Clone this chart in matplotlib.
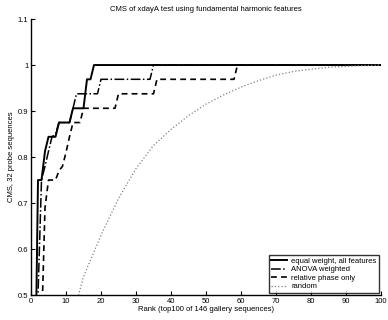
import matplotlib
matplotlib.use("Agg")
import matplotlib.pyplot as plt

plt.rcParams['font.family'] = ['Liberation Sans', 'DejaVu Sans']

ranks = list(range(1, 101))

# equal weight, all features (values for ranks 1..18, then 1.0)
equal_head = [0.20, 0.75, 0.75, 0.8125, 0.844, 0.844, 0.844, 0.875, 0.875, 0.875,
              0.875, 0.906, 0.906, 0.906, 0.906, 0.969, 0.969, 1.0]
equal_weight = equal_head + [1.0] * (100 - len(equal_head))

# ANOVA weighted
anova_head = [0.30, 0.50, 0.75, 0.78, 0.8125, 0.844, 0.85, 0.875, 0.875, 0.875,
              0.875, 0.906, 0.9375, 0.9375, 0.9375, 0.9375, 0.9375, 0.9375, 0.9375]
anova = anova_head + [0.969] * (34 - len(anova_head)) + [1.0] * (100 - 34)

# relative phase only
phase_head = [0.20, 0.30, 0.42, 0.69, 0.75, 0.75, 0.75, 0.77, 0.78, 0.81,
              0.844, 0.875, 0.875, 0.875]
phase = (phase_head + [0.906] * (24 - len(phase_head)) + [0.9375] * (35 - 24)
         + [0.969] * (58 - 35) + [1.0] * (100 - 58))

# random
random_ranks = [1, 5, 10, 15, 20, 25, 30, 35, 40, 45, 50, 55, 60, 65, 70, 75, 80, 85, 90, 95, 100]
random_vals = [0.04, 0.22, 0.40, 0.54, 0.63, 0.71, 0.775, 0.825, 0.86, 0.89, 0.915,
               0.935, 0.952, 0.966, 0.978, 0.986, 0.991, 0.995, 0.997, 0.999, 1.0]

x_ticks = [0, 10, 20, 30, 40, 50, 60, 70, 80, 90, 100]
y_ticks = [0.5, 0.6, 0.7, 0.8, 0.9, 1.0, 1.1]
y_labels = ['0.5', '0.6', '0.7', '0.8', '0.9', '1', '1.1']

fig = plt.figure(figsize=(3.88, 3.2), dpi=100)
ax = fig.add_axes([0.0799, 0.078, 0.902, 0.8625])

ax.plot(ranks, equal_weight, color='black', linestyle='-', linewidth=1.4,
        label='equal weight, all features')
ax.plot(ranks, anova, color='black', linestyle='-.', linewidth=1.1,
        label='ANOVA weighted')
ax.plot(ranks, phase, color='black', linestyle='--', linewidth=1.2,
        dashes=(3.5, 2.5), label='relative phase only')
ax.plot(random_ranks, random_vals, color='#808080', linestyle=':', linewidth=0.9,
        label='random')

ax.set_xlim(0, 100)
ax.set_ylim(0.5, 1.1)
ax.set_xticks(x_ticks)
ax.set_yticks(y_ticks)
ax.set_yticklabels(y_labels)
ax.tick_params(direction='in', labelsize=5.5, length=3, width=0.8, pad=2)
for s in ['top', 'right']:
    ax.spines[s].set_visible(False)
for s in ['left', 'bottom']:
    ax.spines[s].set_linewidth(1.0)

ax.set_title('CMS of xdayA test using fundamental harmonic features', fontsize=5.5, pad=6)
ax.set_xlabel('Rank (top100 of 146 gallery sequences)', fontsize=5.5, labelpad=1)
ax.set_ylabel('CMS, 32 probe sequences', fontsize=5.5, labelpad=2)

leg = ax.legend(loc='lower right', fontsize=5.5, frameon=True, fancybox=False,
                edgecolor='black', handlelength=2.0, borderpad=0.3,
                labelspacing=0.15, handletextpad=0.6, borderaxespad=0.3)
leg.get_frame().set_linewidth(1.0)

fig.savefig('out.png', dpi=100)
